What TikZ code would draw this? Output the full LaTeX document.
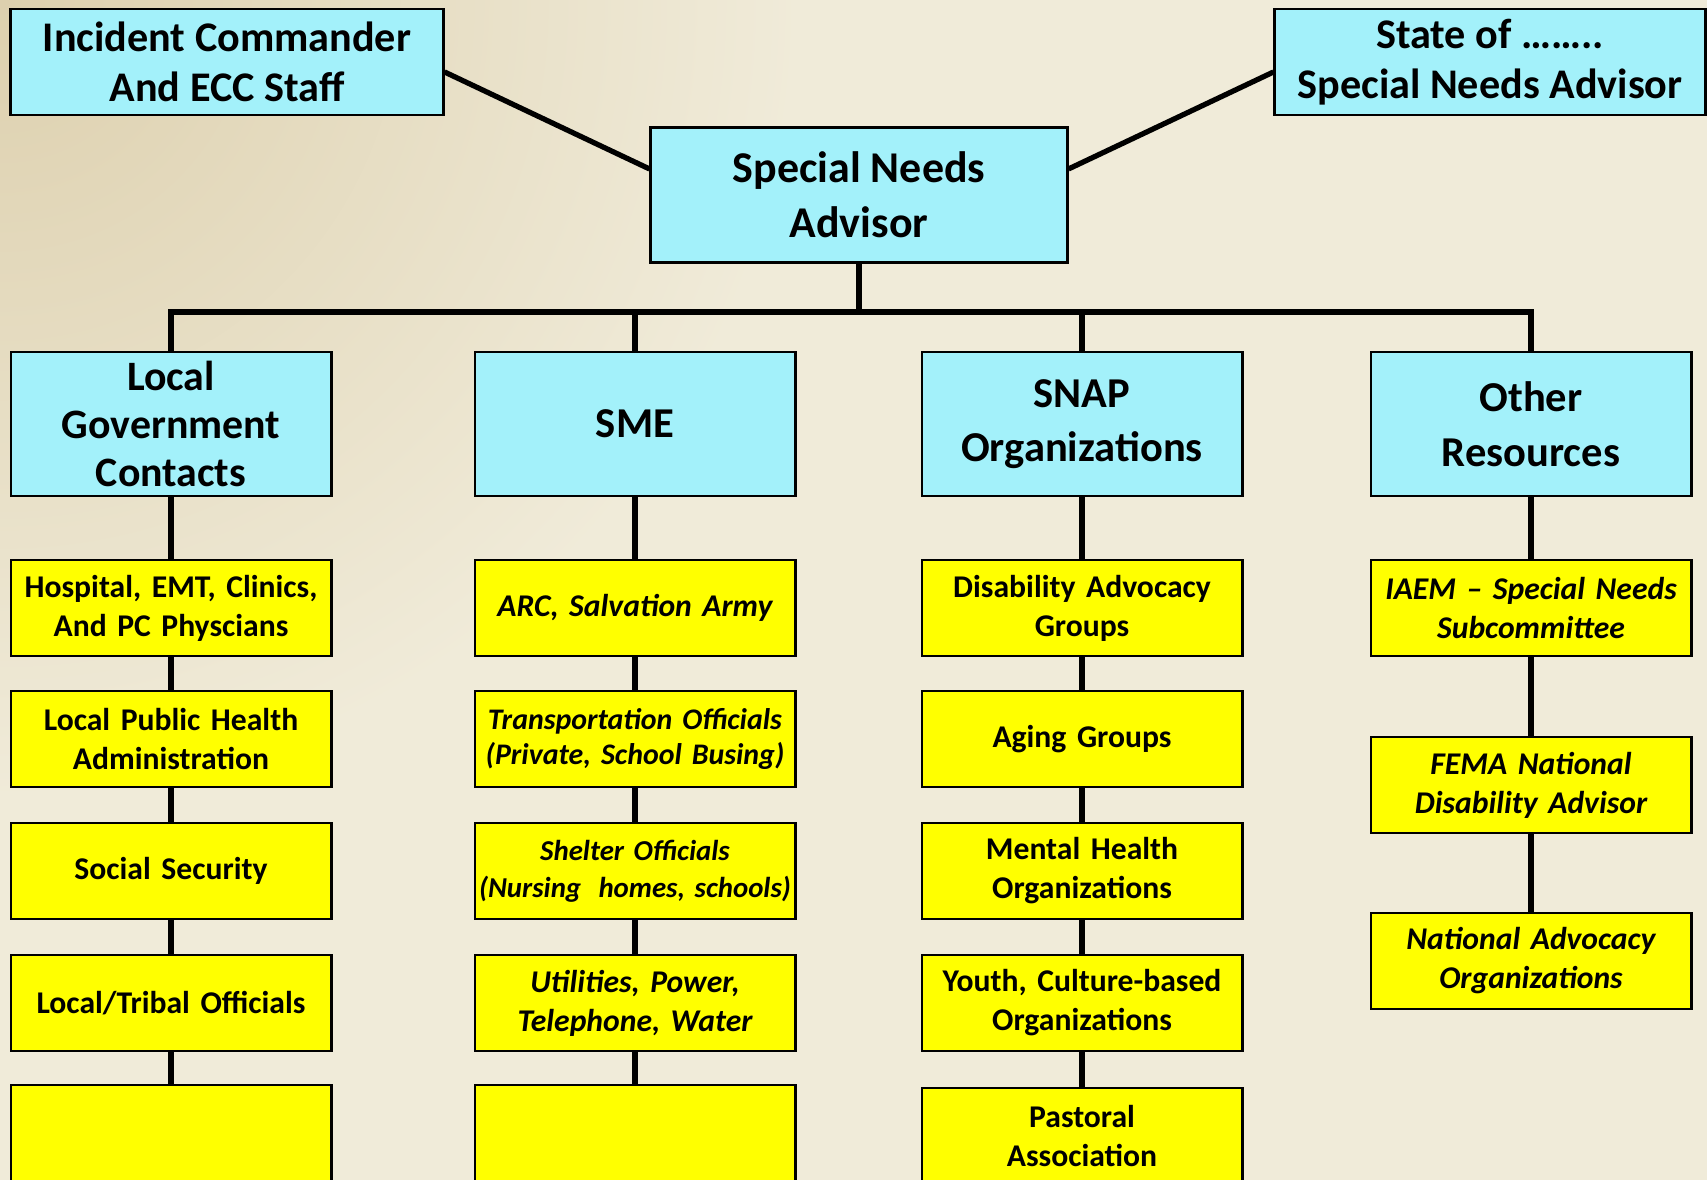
\documentclass[tikz,border=0pt]{standalone}
\usepackage{fontspec}
\setmainfont{Carlito}
\usepackage{tikz}
\usetikzlibrary{positioning}
\definecolor{headcyan}{RGB}{163,241,250}
\definecolor{itemyellow}{RGB}{255,255,0}
\definecolor{bgcream}{RGB}{240,235,217}
\definecolor{bgtan}{RGB}{221,208,174}
\tikzset{headbox/.style = {draw=black, line width=0.8pt, fill=headcyan, inner sep=0pt, align=center, font=\fontsize{12}{14.2}\selectfont\bfseries}}
\tikzset{itembox/.style = {draw=black, line width=0.8pt, fill=itemyellow, inner sep=0pt, minimum width=3.2cm, minimum height=0.96cm, text width=3.1cm, align=center, font=\fontsize{9}{11.1}\selectfont\bfseries}}
\tikzset{italicbox/.style = {itembox, font=\fontsize{9}{11.1}\selectfont\bfseries\itshape}}
\tikzset{link/.style = {line width=1.9pt}}

\begin{document}
\begin{tikzpicture}[x=0.01cm,y=0.01cm]
\useasboundingbox (0,0) rectangle (1707,1180);
\clip (0,0) rectangle (1707,1180);
\fill[bgcream] (0,0) rectangle (1707,1180);
\shade[inner color=bgtan, outer color=bgcream] (0,1180) circle (800);

\node[headbox, minimum width=4.32cm, minimum height=1.06cm] (ic) at (227,1118) {Incident Commander\\And ECC Staff};
\node[headbox, minimum width=4.30cm, minimum height=1.06cm] (state) at (1490,1118) {State of \dots\dots..\\Special Needs Advisor};
\node[headbox, minimum width=4.16cm, minimum height=1.35cm, font=\fontsize{12.5}{15.5}\selectfont\bfseries] (sna) at (859,985) {Special Needs\\Advisor};

\node[headbox, minimum width=3.2cm, minimum height=1.44cm, font=\fontsize{11.9}{13.6}\selectfont\bfseries] (lgc) at (171,756) {Local\\Government\\Contacts};
\node[headbox, minimum width=3.2cm, minimum height=1.44cm, font=\fontsize{12.1}{15.5}\selectfont\bfseries] (sme) at (635,756) {SME};
\node[headbox, minimum width=3.2cm, minimum height=1.44cm, font=\fontsize{12.1}{15.5}\selectfont\bfseries] (snap) at (1082,756) {SNAP\\Organizations};
\node[headbox, minimum width=3.2cm, minimum height=1.44cm, font=\fontsize{12.1}{15.5}\selectfont\bfseries] (oth) at (1531,756) {Other\\Resources};

\node[itembox] (hosp) at (171,572) {Hospital, EMT, Clinics,\\And PC Physcians};
\node[itembox] (lph) at (171,441) {Local Public Health\\Administration};
\node[itembox] (socsec) at (171,309) {Social Security};
\node[itembox] (tribal) at (171,177) {Local/Tribal Officials};
\node[itembox] (lgempty) at (171,47) {};

\node[italicbox] (arc) at (635,572) {ARC, Salvation Army};
\node[italicbox, font=\fontsize{8.5}{10}\selectfont\bfseries\itshape] (transp) at (635,441) {Transportation Officials\\(Private, School Busing)};
\node[italicbox, text width=3.2cm, font=\fontsize{8.2}{10.5}\selectfont\bfseries\itshape] (shelter) at (635,309) {Shelter Officials\\(Nursing\hspace{0.6em}homes, schools)};
\node[italicbox] (util) at (635,177) {Utilities, Power,\\Telephone, Water};
\node[itembox] (smeempty) at (635,47) {};

\node[itembox] (disab) at (1082,572) {Disability Advocacy\\Groups};
\node[itembox] (aging) at (1082,441) {Aging Groups};
\node[itembox] (mental) at (1082,309) {Mental Health\\Organizations};
\node[itembox] (youth) at (1082,177) {Youth, Culture-based\\Organizations};
\node[itembox] (pastoral) at (1082,44) {Pastoral\\Association};

\node[italicbox] (iaem) at (1531,572) {IAEM -- Special Needs\\Subcommittee};
\node[italicbox] (fema) at (1531,395) {FEMA National\\Disability Advisor};
\node[italicbox] (natadv) at (1531,219) {National Advocacy\\Organizations};

\coordinate (bus) at (859,868);

\draw[line width=1.5pt] ([yshift=-1mm]ic.east) -- ([yshift=2.6mm]sna.west);
\draw[line width=1.5pt] ([yshift=2.6mm]sna.east) -- ([yshift=-1mm]state.west);

\draw[link] (sna.south) -- (bus);
\draw[link] (lgc.north) |- (bus) -| (oth.north);
\draw[link] (sme.north) -- (sme.north |- bus);
\draw[link] (snap.north) -- (snap.north |- bus);

\draw[link] (lgc) -- (hosp) -- (lph) -- (socsec) -- (tribal) -- (lgempty);
\draw[link] (sme) -- (arc) -- (transp) -- (shelter) -- (util) -- (smeempty);
\draw[link] (snap) -- (disab) -- (aging) -- (mental) -- (youth) -- (pastoral);
\draw[link] (oth) -- (iaem) -- (fema) -- (natadv);
\end{tikzpicture}
\end{document}
